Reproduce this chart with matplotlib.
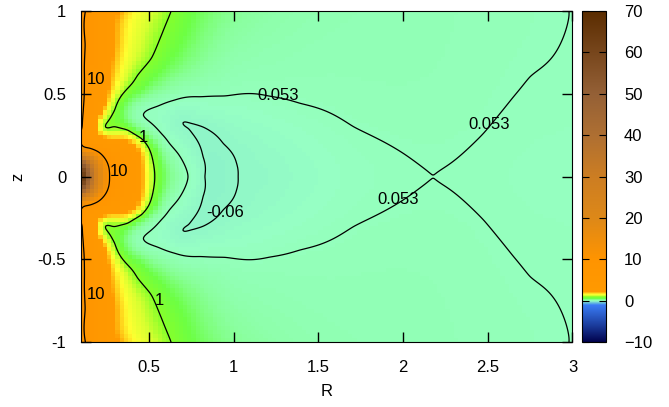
import numpy as np
import matplotlib
matplotlib.use("Agg")
import matplotlib.pyplot as plt
from matplotlib.colors import LinearSegmentedColormap, Normalize
from matplotlib.cm import ScalarMappable

plt.rcParams["font.family"] = ["Liberation Sans", "DejaVu Sans"]
plt.rcParams["font.size"] = 12

# Traced level curves in the upper half plane (the field is symmetric in z)
lvl10_R = [0.124, 0.122, 0.118, 0.112, 0.105, 0.266, 0.258, 0.235, 0.20, 0.15, 0.11]
lvl10_z = [1.0, 0.8, 0.6, 0.42, 0.3, 0.0, 0.07, 0.115, 0.15, 0.172, 0.18]
lvl1_R = [0.533, 0.525, 0.503, 0.454, 0.375, 0.296, 0.237, 0.296, 0.353, 0.43, 0.513, 0.575, 0.63]
lvl1_z = [0.0, 0.08, 0.161, 0.231, 0.281, 0.303, 0.297, 0.40, 0.51, 0.61, 0.714, 0.86, 1.0]
lvl053_R = [0.73, 0.70, 0.67, 0.62, 0.572, 0.463, 0.552, 0.65, 0.80, 0.947, 1.21, 1.39, 1.706, 2.0, 2.18,
            2.475, 2.646, 2.75, 2.98]
lvl053_z = [0.0, 0.09, 0.14, 0.2, 0.26, 0.372, 0.426, 0.462, 0.482, 0.487, 0.486, 0.443, 0.302, 0.141, 0.0,
            0.262, 0.475, 0.604, 0.977]
lvlm06_R = [0.70, 0.818, 0.937, 1.016, 1.025, 0.735, 0.77, 0.818, 0.828]
lvlm06_z = [0.33, 0.30, 0.20, 0.08, 0.0, 0.29, 0.24, 0.12, 0.0]

# Values around the X point at R = 2.18 on the equator
xpt_R = [2.26, 2.10, 2.18, 2.2493, 2.1107, 2.22, 2.14]
xpt_z = [0.0, 0.0, 0.08, 0.04, 0.04, 0.0693, 0.0693]
xpt_v = [0.05236, 0.05236, 0.05383, 0.05273, 0.05273, 0.05346, 0.05346]

# Field values read at other places in the plane
smp_R = [0.92, 0.9, 0.76, 0.78, 1.2, 1.5, 1.85, 2.0, 1.2, 1.6, 0.66, 1.0,
         2.6, 3.0, 3.0, 2.8, 2.18, 2.8,
         0.6, 0.75, 1.0, 1.5, 2.2, 0.75, 1.0, 1.3, 1.8, 2.5, 0.45, 0.6,
         0.6, 0.55, 0.35,
         0.4, 0.35, 0.2, 0.2, 0.25, 0.3, 0.2,
         0.1, 0.1, 0.1, 0.1, 0.1, 0.1, 0.1, 0.15, 0.2, 0.15]
smp_z = [0.0, 0.2, 0.3, 0.0, 0.0, 0.0, 0.0, 0.0, 0.3, 0.2, 0.36, 0.35,
         0.0, 0.0, 0.4, 0.2, 0.3, 1.0,
         0.7, 0.7, 0.7, 0.7, 0.75, 1.0, 1.0, 1.0, 1.0, 1.0, 0.5, 0.5,
         0.0, 0.2, 0.34,
         0.0, 0.2, 0.4, 0.6, 0.7, 0.95, 0.95,
         1.0, 0.8, 0.6, 0.4, 0.235, 0.1, 0.0, 0.0, 0.0, 0.1]
smp_v = [-0.085, -0.07, -0.065, 0.0, -0.04, 0.0, 0.04, 0.049, 0.0, 0.03, -0.05, -0.01,
         0.04, 0.025, 0.045, 0.038, 0.065, 0.058,
         0.65, 0.35, 0.13, 0.085, 0.08, 0.62, 0.28, 0.15, 0.095, 0.07, 0.55, 0.15,
         0.45, 0.4, 0.45,
         3.2, 2.5, 3.0, 3.7, 2.65, 2.2, 4.2,
         12.0, 12.3, 12.5, 12.0, 8.5, 45.0, 70.0, 45.0, 20.0, 30.0]

levels = [-0.06, 0.053, 1, 10]
label_at = {10: [(0.186, 0.584), (0.32, 0.028), (0.186, -0.709)],
            1: [(0.467, 0.239), (0.562, -0.745)],
            0.053: [(1.26, 0.487), (2.509, 0.312), (1.97, -0.141)],
            -0.06: [(0.947, -0.219)]}

R_min, R_max, z_min, z_max = 0.1, 3.0, -1.0, 1.0
vmin, vmax = -10, 70
soft = 0.05  # asinh scale used for smooth interpolation across decades

# ---- assemble samples (mirrored to z < 0) with per-sample smoothing ----
pR, pz, pv, lam = [], [], [], []
for Rs, zs, v in [(lvl10_R, lvl10_z, 10), (lvl1_R, lvl1_z, 1), (lvl053_R, lvl053_z, 0.053),
                  (lvlm06_R, lvlm06_z, -0.06)]:
    pR += list(Rs); pz += list(zs); pv += [v] * len(Rs); lam += [4e-4] * len(Rs)
pR += xpt_R; pz += xpt_z; pv += xpt_v; lam += [1e-5] * len(xpt_R)
pR += smp_R; pz += smp_z; pv += smp_v; lam += [4e-3] * len(smp_R)
pR, pz, pv, lam = (np.array(a, float) for a in (pR, pz, pv, lam))
m = pz > 0
PR = np.concatenate([pR, pR[m]])
PZ = np.concatenate([pz, -pz[m]])
PT = np.arcsinh(np.concatenate([pv, pv[m]]) / soft)
LAM = np.concatenate([lam, lam[m]])


def tps_kernel(d):
    return np.where(d > 0, d * d * np.log(np.maximum(d, 1e-12)), 0.0)


N = PR.size
D = np.hypot(PR[:, None] - PR[None, :], PZ[:, None] - PZ[None, :])
K = tps_kernel(D) + np.diag(LAM)
Pm = np.column_stack([np.ones(N), PR, PZ])
M = np.block([[K, Pm], [Pm.T, np.zeros((3, 3))]])
sol = np.linalg.solve(M, np.concatenate([PT, np.zeros(3)]))
wts, aff = sol[:N], sol[N:]


def field(R, z):
    R = np.asarray(R, float); z = np.asarray(z, float)
    shp = R.shape
    x, y = R.ravel(), z.ravel()
    out = np.empty(x.size)
    for s in range(0, x.size, 20000):
        xs, ys = x[s:s + 20000], y[s:s + 20000]
        d = np.hypot(xs[:, None] - PR[None, :], ys[:, None] - PZ[None, :])
        out[s:s + 20000] = tps_kernel(d) @ wts + aff[0] + aff[1] * xs + aff[2] * ys
    return soft * np.sinh(out.reshape(shp))


# coarse grid for the colour map (each cell takes the mean of its corners)
step = 0.025
Rn = np.arange(R_min, R_max + 1e-9, step)
zn = np.arange(z_min, z_max + 1e-9, step)
RR, ZZ = np.meshgrid(Rn, zn)
V = field(RR, ZZ)
Vc = 0.25 * (V[:-1, :-1] + V[1:, :-1] + V[:-1, 1:] + V[1:, 1:])

# finer grid for smooth contour lines
Rf = np.linspace(R_min, R_max, 420)
zf = np.linspace(z_min, z_max, 300)
RF, ZF = np.meshgrid(Rf, zf)
VF = field(RF, ZF)

stops = [(-10, "#00004a"), (-6, "#1a3a9a"), (-1, "#3a7cf5"),
         (0.0, "#96ffc4"), (0.25, "#88ff99"), (0.6, "#6cff44"), (1.0, "#86ff2a"),
         (1.3, "#d8ff30"), (1.6, "#ffff30"), (2.2, "#ff9900"),
         (10, "#ff9400"), (20, "#dd8818"),
         (30, "#cc7d22"), (40, "#ae6f32"), (50, "#946036"), (60, "#77461c"), (70, "#5a2c00")]
cmap = LinearSegmentedColormap.from_list(
    "pal", [((v - vmin) / (vmax - vmin), c) for v, c in stops], N=4096)
norm = Normalize(vmin, vmax)

fig = plt.figure(figsize=(6.69, 4.07), dpi=100)
ax = fig.add_axes([0.1217, 0.159, 0.734, 0.814])
ax.pcolormesh(Rn, zn, np.clip(Vc, vmin, vmax), cmap=cmap, norm=norm, shading="flat")
cs = ax.contour(RF, ZF, VF, levels=levels, colors="black", linewidths=0.9, linestyles="solid")

for lev in levels:
    for (x0, y0) in label_at[lev]:
        ax.text(x0, y0, f"{lev:g}", ha="center", va="center", fontsize=12, zorder=4)

ax.set_xlim(R_min, R_max)
ax.set_ylim(z_min, z_max)
ax.set_xticks([0.5, 1, 1.5, 2, 2.5, 3])
ax.set_xticklabels(["0.5", "1", "1.5", "2", "2.5", "3"])
ax.set_yticks([-1, -0.5, 0, 0.5, 1])
ax.set_yticklabels(["-1", "-0.5", "0", "0.5", "1"])
ax.tick_params(direction="in", top=True, right=True, length=7, width=1)
ax.tick_params(axis="x", pad=13)
ax.tick_params(axis="y", pad=11)
ax.set_xlabel("R", labelpad=6)
ax.set_ylabel("z", labelpad=9)

cax = fig.add_axes([0.870, 0.159, 0.0359, 0.814])
cb = fig.colorbar(ScalarMappable(norm=norm, cmap=cmap), cax=cax, ticks=range(-10, 71, 10))
cb.ax.tick_params(direction="in", left=True, right=True, length=5, pad=13)
fig.savefig("out.png", dpi=100)
